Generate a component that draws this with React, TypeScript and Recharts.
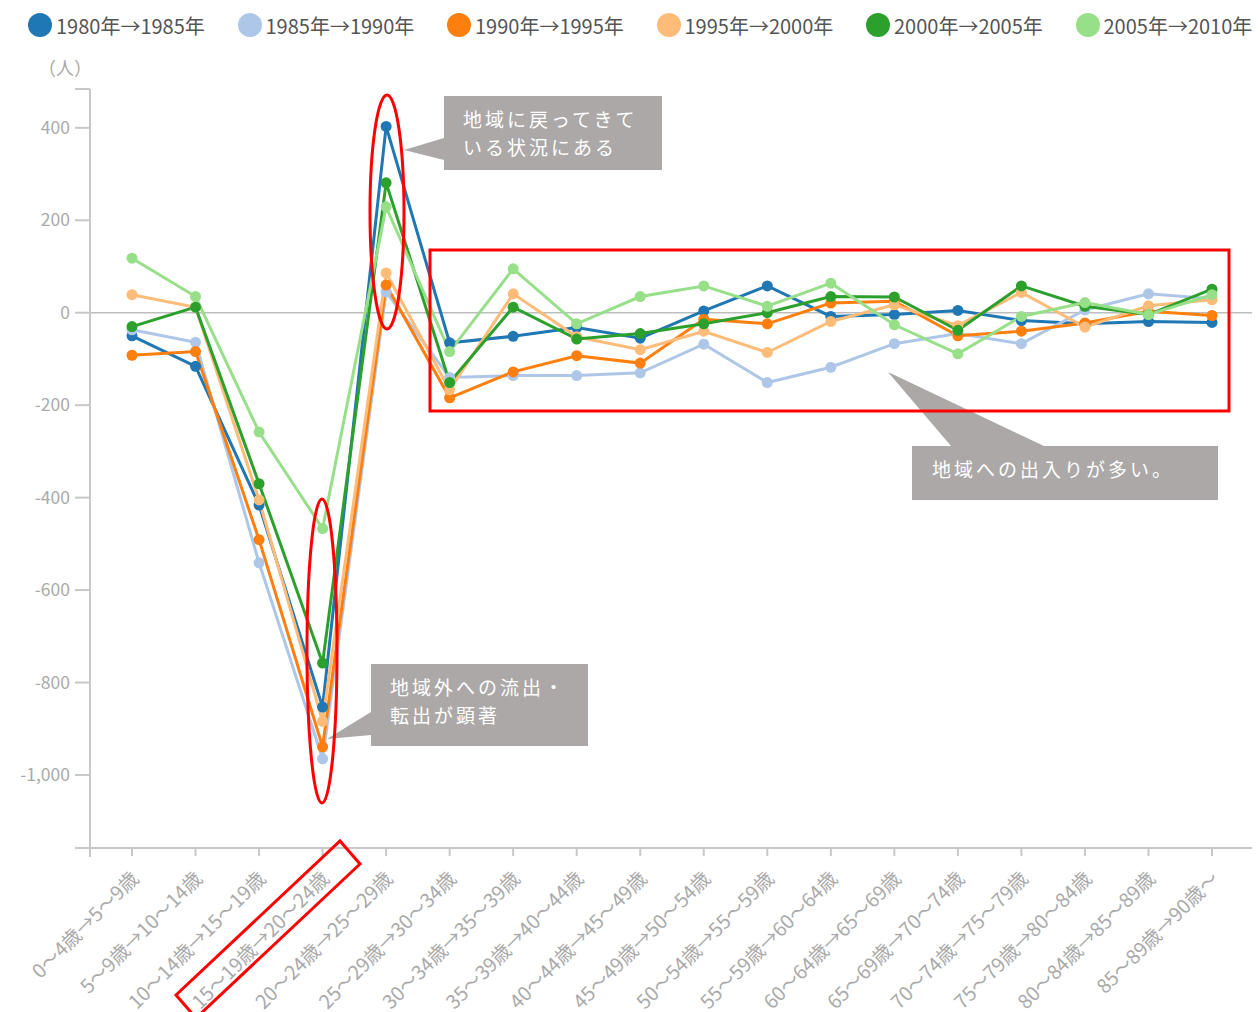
import { LineChart, Line, XAxis, YAxis, ReferenceLine } from 'recharts'

const categories = [
  '0～4歳→5～9歳',
  '5～9歳→10～14歳',
  '10～14歳→15～19歳',
  '15～19歳→20～24歳',
  '20～24歳→25～29歳',
  '25～29歳→30～34歳',
  '30～34歳→35～39歳',
  '35～39歳→40～44歳',
  '40～44歳→45～49歳',
  '45～49歳→50～54歳',
  '50～54歳→55～59歳',
  '55～59歳→60～64歳',
  '60～64歳→65～69歳',
  '65～69歳→70～74歳',
  '70～74歳→75～79歳',
  '75～79歳→80～84歳',
  '80～84歳→85～89歳',
  '85～89歳→90歳～',
]

const s1980 = [-50, -116, -416, -853, 403, -65, -51, -32, -55, 4, 58, -8, -4, 5, -17, -24, -19, -21]
const s1985 = [-37, -64, -541, -965, 45, -140, -136, -136, -130, -68, -151, -118, -67, -45, -67, 6, 41, 30]
const s1990 = [-92, -84, -491, -939, 60, -184, -128, -93, -109, -14, -24, 21, 25, -50, -40, -22, 3, -6]
const s1995 = [39, 12, -405, -884, 86, -167, 41, -52, -80, -40, -86, -19, 17, -28, 44, -31, 15, 28]
const s2000 = [-30, 12, -370, -758, 281, -151, 12, -57, -45, -24, 0, 35, 34, -38, 58, 14, -4, 51]
const s2005 = [118, 35, -258, -467, 229, -84, 95, -24, 35, 58, 14, 64, -26, -89, -8, 22, -4, 39]

const seriesNames = ['1980年→1985年', '1985年→1990年', '1990年→1995年', '1995年→2000年', '2000年→2005年', '2005年→2010年']
const seriesColors = ['#1f77b4', '#aec7e8', '#ff7f0e', '#ffbb78', '#2ca02c', '#98df8a']
const seriesValues = [s1980, s1985, s1990, s1995, s2000, s2005]

const Y_MIN = -1158
const Y_MAX = 484
const yTicks = [Y_MIN, -1000, -800, -600, -400, -200, 0, 200, 400, Y_MAX]

const FONT = '"Noto Sans CJK JP", "Noto Sans", sans-serif'
const AXIS_GRAY = '#c8c8c8'
const LABEL_GRAY = '#aaaaaa'
const CALLOUT = '#aba8a7'

const chartData = categories.map((label, i) => {
  const row: Record<string, string | number> = { label }
  seriesValues.forEach((vals, k) => {
    row['s' + k] = vals[i]
  })
  return row
})

// rotated category label, end of text sits just right of the tick
function XTick(props: any) {
  const { x, y, payload } = props
  return (
    <g transform={`translate(${x + 8},${y + 24})`}>
      <text
        textAnchor="end"
        transform="rotate(-45)"
        fill={LABEL_GRAY}
        fontSize={19.5}
        fontFamily={FONT}
      >
        {payload.value}
      </text>
    </g>
  )
}

function Legend() {
  return (
    <div style={{ position: 'absolute', left: 28, top: 12, display: 'flex', fontFamily: FONT }}>
      {seriesNames.map((name, k) => (
        <div key={name} style={{ width: 209.5, display: 'flex', alignItems: 'center', height: 26 }}>
          <span
            style={{
              width: 24,
              height: 24,
              borderRadius: 12,
              background: seriesColors[k],
              display: 'inline-block',
              flex: 'none',
            }}
          />
          <span style={{ fontSize: 20, color: '#555', marginLeft: 4, whiteSpace: 'nowrap' }}>{name}</span>
        </div>
      ))}
    </div>
  )
}

function Annotations() {
  const textStyle = { fontFamily: FONT, fontSize: 19, fill: '#fff', letterSpacing: 3 }
  return (
    <svg
      width={1260}
      height={1012}
      style={{ position: 'absolute', left: 0, top: 0, pointerEvents: 'none' }}
    >
      <text x={38} y={75} fill={LABEL_GRAY} fontSize={18} fontFamily={FONT}>（人）</text>
      <line x1={90} y1={848} x2={90} y2={857} stroke={AXIS_GRAY} strokeWidth={2} />

      {/* callout: return to region */}
      <polygon points="444,138 444,160 404,150" fill={CALLOUT} />
      <rect x={444} y={96} width={218} height={74} fill={CALLOUT} />
      <text x={463} y={127} {...textStyle}>地域に戻ってきて</text>
      <text x={463} y={155} {...textStyle}>いる状況にある</text>

      {/* callout: outflow */}
      <polygon points="371,712 371,735 327,739" fill={CALLOUT} />
      <rect x={371} y={664} width={217} height={82} fill={CALLOUT} />
      <text x={390} y={695} {...textStyle}>地域外への流出・</text>
      <text x={390} y={723} {...textStyle}>転出が顕著</text>

      {/* callout: in and out */}
      <polygon points="888,372 951,446 1044,446" fill={CALLOUT} />
      <rect x={912} y={446} width={306} height={54} fill={CALLOUT} />
      <text x={932} y={477} {...textStyle}>地域への出入りが多い。</text>

      {/* red highlights */}
      <ellipse cx={387} cy={212} rx={17} ry={117} fill="none" stroke="#ff0000" strokeWidth={3} />
      <ellipse cx={322} cy={651} rx={15} ry={152} fill="none" stroke="#ff0000" strokeWidth={3} />
      <rect x={430} y={250} width={799} height={161} fill="none" stroke="#ff0000" strokeWidth={3} />
      <polygon points="340,841 360,864 196,1018 176,995" fill="none" stroke="#ff0000" strokeWidth={3} />
    </svg>
  )
}

export default function App() {
  return (
    <div style={{ position: 'absolute', left: 0, top: 0, width: 1260, height: 1012, background: '#fff' }}>
      <LineChart
        width={1260}
        height={1012}
        data={chartData}
        margin={{ top: 89, right: 8, bottom: 0, left: 0 }}
      >
        <XAxis
          dataKey="label"
          interval={0}
          padding={{ left: 42, right: 40 }}
          height={164}
          tickSize={8}
          tickMargin={0}
          axisLine={{ stroke: AXIS_GRAY, strokeWidth: 2 }}
          tickLine={{ stroke: AXIS_GRAY, strokeWidth: 2 }}
          tick={<XTick />}
        />
        <YAxis
          type="number"
          width={90}
          domain={[Y_MIN, Y_MAX]}
          ticks={yTicks}
          allowDataOverflow
          interval={0}
          tickSize={15}
          tickMargin={5}
          axisLine={{ stroke: AXIS_GRAY, strokeWidth: 2 }}
          tickLine={{ stroke: AXIS_GRAY, strokeWidth: 2 }}
          tick={{ fill: LABEL_GRAY, fontSize: 17.5, fontFamily: FONT }}
          tickFormatter={(v: number) => (v === Y_MIN || v === Y_MAX ? '' : v.toLocaleString('en-US'))}
        />
        <ReferenceLine y={0} stroke="#bdbdbd" strokeWidth={1.5} />
        {seriesNames.map((name, k) => (
          <Line
            key={name}
            type="linear"
            dataKey={'s' + k}
            name={name}
            stroke={seriesColors[k]}
            strokeWidth={3}
            dot={{ r: 5.5, fill: seriesColors[k], stroke: 'none' }}
            activeDot={false}
            isAnimationActive={false}
          />
        ))}
      </LineChart>
      <Legend />
      <Annotations />
    </div>
  )
}
